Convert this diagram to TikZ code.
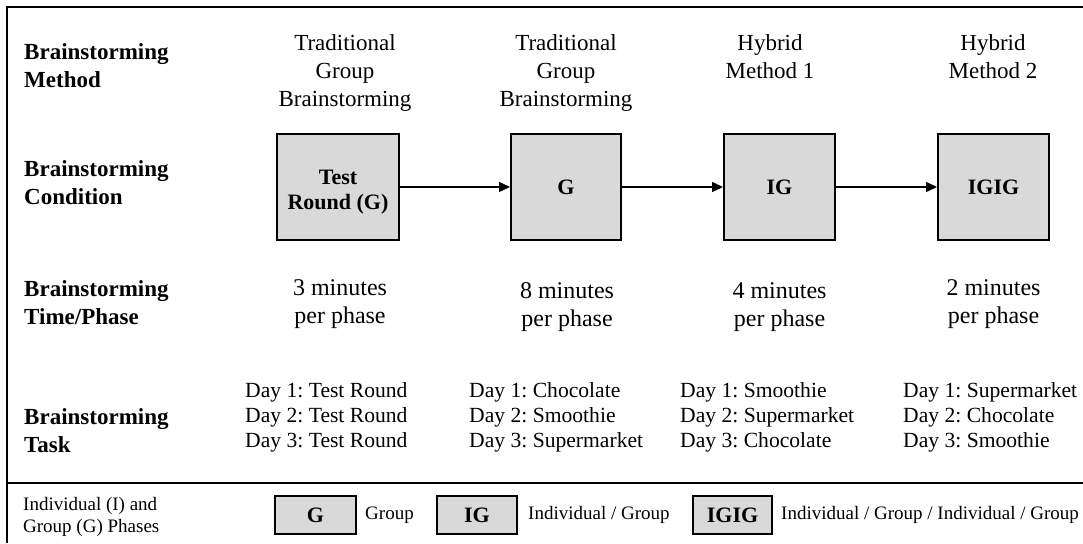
\documentclass[tikz,border=0pt]{standalone}
\usepackage{fontspec}
\setmainfont{Liberation Serif}
\frenchspacing
\usetikzlibrary{arrows.meta}
\definecolor{boxgray}{HTML}{D9D9D9}
\tikzset{
	rowlabel/.style={anchor=west, align=left, inner sep=0pt, font=\bfseries\fontsize{23}{28}\selectfont},
	coltext/.style={align=center, inner sep=0pt, font=\fontsize{23}{28}\selectfont},
	timetext/.style={align=center, inner sep=0pt, font=\fontsize{24}{28}\selectfont},
	tasktext/.style={anchor=west, align=left, inner sep=0pt, font=\fontsize{21.6}{25}\selectfont},
	keytext/.style={anchor=west, align=left, inner sep=0pt, font=\fontsize{19}{22}\selectfont},
	condbox/.style={draw, line width=2pt, fill=boxgray, minimum height=106pt, inner sep=0pt, align=center, font=\bfseries\fontsize{22}{26}\selectfont},
	boxlabel/.style={align=center, inner sep=0pt, font=\bfseries\fontsize{22}{25}\selectfont},
	keybox/.style={draw, line width=2pt, fill=boxgray, minimum width=80pt, minimum height=38pt, inner sep=0pt, font=\bfseries\fontsize{22}{26}\selectfont},
	flow/.style={line width=1.4pt, -{Triangle[length=11pt,width=10pt]}}
}

\begin{document}
\begin{tikzpicture}[x=1pt, y=-1pt]
				\useasboundingbox (0,0) rectangle (1083,543);
				
				\draw[line width=2pt] (7,543) -- (7,7) -- (1083,7);
				\draw[line width=2pt] (7,483) -- (1083,483);
				
				\node[rowlabel] (lmethod) at (24,66) {Brainstorming\\Method};
				\node[rowlabel] (lcond) at (24,183) {Brainstorming\\Condition};
				\node[rowlabel] (ltime) at (24,303) {Brainstorming\\Time/Phase};
				\node[rowlabel] (ltask) at (24,431) {Brainstorming\\Task};
				
				\node[coltext, anchor=north] (m1) at (345,34) {Traditional\\Group\\Brainstorming};
				\node[coltext, anchor=north] (m2) at (566,34) {Traditional\\Group\\Brainstorming};
				\node[coltext, anchor=north] (m3) at (770,34) {Hybrid\\Method 1};
				\node[coltext, anchor=north] (m4) at (993,34) {Hybrid\\Method 2};
				
				\node[condbox, minimum width=122pt] (c1) at (338,187) {};
				\node[boxlabel] (c1txt) at (338,192) {Test\\Round (G)};
				\node[condbox, minimum width=110pt] (c2) at (566,187) {G};
				\node[condbox, minimum width=111pt] (c3) at (779.5,187) {IG};
				\node[condbox, minimum width=111pt] (c4) at (993.5,187) {IGIG};
				\draw[flow] (c1) -- (c2);
				\draw[flow] (c2) -- (c3);
				\draw[flow] (c3) -- (c4);
				
				\node[timetext] (t1) at (340,304) {3 minutes\\per phase};
				\node[timetext] (t2) at (567,307) {8 minutes\\per phase};
				\node[timetext] (t3) at (779.5,307) {4 minutes\\per phase};
				\node[timetext] (t4) at (993.5,304) {2 minutes\\per phase};
				
				\node[tasktext] (k1) at (245,417) {Day 1: Test Round\\Day 2: Test Round\\Day 3: Test Round};
				\node[tasktext] (k2) at (469,417) {Day 1: Chocolate\\Day 2: Smoothie\\Day 3: Supermarket};
				\node[tasktext] (k3) at (680,417) {Day 1: Smoothie\\Day 2: Supermarket\\Day 3: Chocolate};
				\node[tasktext] (k4) at (903,417) {Day 1: Supermarket\\Day 2: Chocolate\\Day 3: Smoothie};
				
				\node[keytext] (lphase) at (23,516.5) {Individual (I) and\\Group (G) Phases};
				\node[keybox, minimum width=81pt] (kg) at (315.5,515) {G};
				\node[keytext] (tg) at ([xshift=8pt]kg.east) {Group};
				\node[keybox] (kig) at (477,515) {IG};
				\node[keytext] (tig) at ([xshift=10pt]kig.east) {Individual / Group};
				\node[keybox, minimum width=79pt] (kigig) at (732.5,515) {IGIG};
				\node[keytext] (tigig) at ([xshift=8pt]kigig.east) {Individual / Group / Individual / Group};
\end{tikzpicture}
\end{document}
